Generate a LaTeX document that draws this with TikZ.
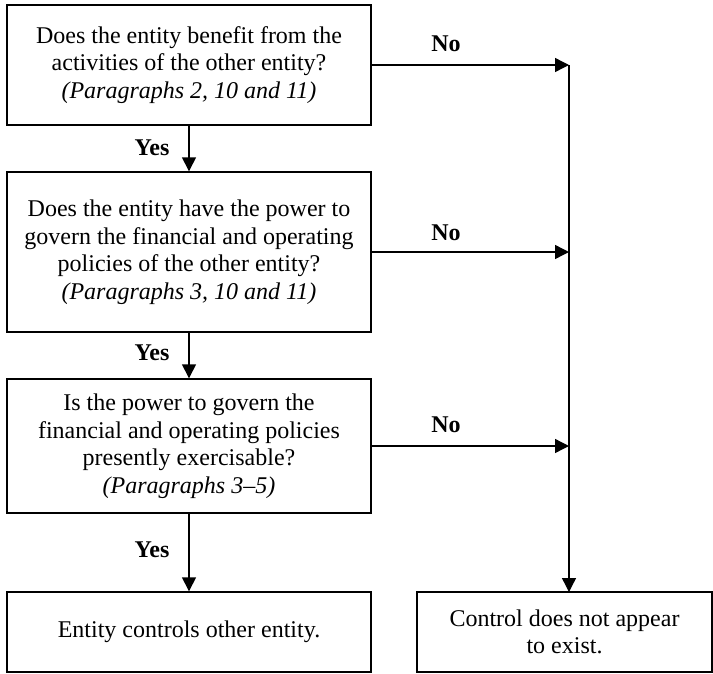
\documentclass[tikz,border=0pt]{standalone}
\usepackage{fontspec}
\setmainfont{Liberation Serif}
\usetikzlibrary{arrows.meta}

\begin{document}
\begin{tikzpicture}[x=1pt,y=-1pt,
  box/.style={draw,line width=1.4pt,align=center,inner sep=0pt,
    font=\fontsize{24}{27.5}\selectfont},
  answer/.style={font=\fontsize{24}{27.5}\selectfont\bfseries},
  flow/.style={line width=1.4pt,-{Triangle[length=14pt,width=14pt]}}]
\useasboundingbox (0,0) rectangle (713,673);

%questions
\node[box,minimum width=364pt,minimum height=120pt] (q1) at (189,65)
  {Does the entity benefit from the\\activities of the other entity?\\\textit{(Paragraphs 2, 10 and 11)}};
\node[box,minimum width=364pt,minimum height=160pt] (q2) at (189,252)
  {Does the entity have the power to\\govern the financial and operating\\policies of the other entity?\\\textit{(Paragraphs 3, 10 and 11)}};
\node[box,minimum width=364pt,minimum height=134pt] (q3) at (189,446)
  {Is the power to govern the\\financial and operating policies\\presently exercisable?\\\textit{(Paragraphs 3--5)}};

%outcomes
\node[box,minimum width=364pt,minimum height=80pt] (ctrl) at (189,632)
  {Entity controls other entity.};
\node[box,minimum width=295pt,minimum height=80pt] (noctrl) at (564.5,632)
  {Control does not appear\\to exist.};

%junctions on the right line
\coordinate (j1) at (569,65);
\coordinate (j2) at (569,252);
\coordinate (j3) at (569,446);
\coordinate (jend) at (569,592);

%yes arrows
\draw[flow] (q1) -- (q2);
\draw[flow] (q2) -- (q3);
\draw[flow] (q3) -- (ctrl);
\node[answer] (yes1) at (152,148) {Yes};
\node[answer] (yes2) at (152,353) {Yes};
\node[answer] (yes3) at (152,550) {Yes};

%no arrows
\draw[flow] (q1.east) -- (j1);
\draw[flow] (q2.east) -- (j2);
\draw[flow] (q3.east) -- (j3);
\draw[flow] (j1) -- (jend);
\node[answer] (no1) at (446,44) {No};
\node[answer] (no2) at (446,233) {No};
\node[answer] (no3) at (446,425) {No};

\end{tikzpicture}
\end{document}
